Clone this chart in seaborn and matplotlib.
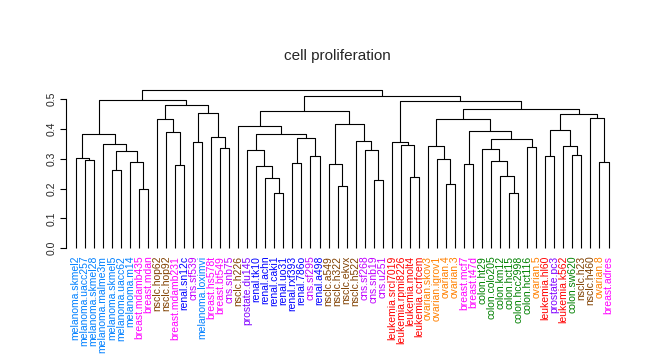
import numpy as np
import matplotlib
matplotlib.use("Agg")
import matplotlib.pyplot as plt
import seaborn as sns

sns.set_theme(style="white")
plt.rcParams["font.family"] = ["Liberation Sans", "DejaVu Sans"]

# leaf labels, left to right
leaf_labels = [
    "melanoma.skmel2", "melanoma.uacc257", "melanoma.skmel28", "melanoma.malme3m",
    "melanoma.skmel5", "melanoma.uacc62", "melanoma.m14", "breast.mdamb435",
    "breast.mdan", "nsclc.hop62", "nsclc.hop92", "breast.mdamb231",
    "renal.sn12c", "cns.sf539", "melanoma.loximvi", "breast.hs578t",
    "breast.bt549", "cns.snb75", "nsclc.h226", "prostate.du145",
    "renal.tk10", "renal.achn", "renal.caki1", "renal.uo31",
    "renal.rxf393", "renal.786o", "cns.sf295", "renal.a498",
    "nsclc.a549", "nsclc.h322", "nsclc.ekvx", "nsclc.h522",
    "cns.sf268", "cns.snb19", "cns.u251", "leukemia.srcl7019",
    "leukemia.rpmi8226", "leukemia.molt4", "leukemia.ccrfcem", "ovarian.skov3",
    "ovarian.igrov1", "ovarian.4", "ovarian.3", "breast.mcf7",
    "breast.t47d", "colon.ht29", "colon.colo205", "colon.km12",
    "colon.hct15", "colon.hcc2998", "colon.hct116", "ovarian.5",
    "leukemia.hl60", "prostate.pc3", "leukemia.k562", "colon.sw620",
    "nsclc.h23", "nsclc.h460", "ovarian.8", "breast.adres",
]

# tissue colours
tissue_colors = {
    "melanoma": "#0080FF", "breast": "#FF00FF", "nsclc": "#804000",
    "renal": "#0000FF", "cns": "#C000FF", "prostate": "#8000FF",
    "leukemia": "#FF0000", "ovarian": "#FF8000", "colon": "#008000",
}

# hclust-style merges: negative = leaf (1-based), positive = earlier merge
merge_left = [
    -8, -2, -1, -5, -7, 4, -4, 3, -12, -11, -10, -14, -17, -16, 12, 11, 8,
    -23, -22, -21, -20, -25, -27, 22, 21, -19, -30, -29, -34, -33, -32, 28, 26,
    -38, -37, -36, -42, -41, -40, -44, -49, -48, -47, -46, -51, 44, 40, 39,
    -53, -56, -55, 49, -59, -58, 52, 48, 36, 33, 17,
]
merge_right = [
    -9, -3, 2, -6, 1, 5, 6, 7, -13, 9, 10, -15, -18, 13, 14, 15, 16,
    -24, 18, 19, 20, -26, -28, 23, 24, 25, -31, 27, -35, 29, 30, 31, 32,
    -39, 34, 35, -43, 37, 38, -45, -50, 41, 42, 43, -52, 45, 46, 47,
    -54, -57, 50, 51, -60, 53, 54, 55, 56, 57, 58,
]
merge_height = [
    0.198, 0.297, 0.304, 0.262, 0.289, 0.325, 0.349, 0.383, 0.278, 0.391,
    0.435, 0.356, 0.336, 0.375, 0.453, 0.480, 0.497,
    0.184, 0.237, 0.276, 0.329, 0.285, 0.309, 0.369, 0.383, 0.409,
    0.208, 0.282, 0.228, 0.329, 0.359, 0.417, 0.460,
    0.238, 0.346, 0.356, 0.215, 0.299, 0.342, 0.282, 0.185, 0.242, 0.292,
    0.332, 0.339, 0.366, 0.393, 0.433,
    0.309, 0.312, 0.342, 0.396, 0.289, 0.436, 0.452, 0.469, 0.493, 0.510, 0.530,
]

y_ticks = [0.0, 0.1, 0.2, 0.3, 0.4, 0.5]

fig = plt.figure(figsize=(6.47, 3.60), dpi=100)
ax = fig.add_axes([66 / 647, 0.3103, 552 / 647, 0.447])


def node_pos(ref, centers, heights):
    if ref < 0:
        return float(-ref), 0.0
    return centers[ref - 1], heights[ref - 1]


centers = []
for a, b, h in zip(merge_left, merge_right, merge_height):
    xa, ha = node_pos(a, centers, merge_height)
    xb, hb = node_pos(b, centers, merge_height)
    ax.plot([xa, xa, xb, xb], [ha, h, h, hb], color="black", lw=0.8,
            solid_capstyle="butt", clip_on=False)
    centers.append((xa + xb) / 2)

for i, lab in enumerate(leaf_labels):
    ax.text(i + 1, -0.025, lab, rotation=90, ha="center", va="top",
            fontsize=7.5, color=tissue_colors[lab.split(".")[0]])

ax.set_xlim(-0.07, 61.05)
ax.set_ylim(0, 0.54)
ax.set_xticks([])
ax.set_yticks(y_ticks)
ax.set_yticklabels([f"{t:.1f}" for t in y_ticks], rotation=90, va="center",
                   fontsize=7.5)
ax.tick_params(axis="y", left=True, length=4.3, width=0.8, pad=2.5, color="black")
sns.despine(ax=ax, top=True, right=True, bottom=True)
ax.spines["left"].set_bounds(0, 0.5)
ax.spines["left"].set_color("black")
ax.spines["left"].set_linewidth(0.8)
ax.grid(False)
ax.patch.set_alpha(0)

fig.text(337.5 / 647, 1 - 56 / 360, "cell proliferation", ha="center",
         va="center", fontsize=11)

fig.savefig("out.png", dpi=100)
